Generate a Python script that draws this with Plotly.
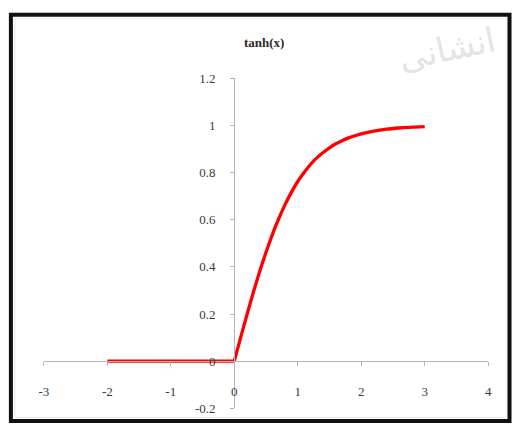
import plotly.graph_objects as go

# ---- data ----
x_vals = [-2.0, -1.5, -1.0, -0.5, 0.0,
          0.1, 0.2, 0.3, 0.4, 0.5, 0.6, 0.7, 0.8, 0.9, 1.0,
          1.1, 1.2, 1.3, 1.4, 1.5, 1.6, 1.7, 1.8, 1.9, 2.0,
          2.2, 2.4, 2.6, 2.8, 3.0]
y_vals = [0.0, 0.0, 0.0, 0.0, 0.0,
          0.100, 0.197, 0.291, 0.380, 0.462, 0.537, 0.604, 0.664, 0.716, 0.762,
          0.800, 0.834, 0.862, 0.885, 0.905, 0.922, 0.935, 0.947, 0.956, 0.964,
          0.976, 0.984, 0.989, 0.993, 0.995]
x_ticks = [-3, -2, -1, 0, 1, 2, 3, 4]
x_tick_labels = ["-3", "-2", "-1", "0", "1", "2", "3", "4"]
y_ticks = [1.2, 1.0, 0.8, 0.6, 0.4, 0.2, 0.0, -0.2]
y_tick_labels = ["1.2", "1", "0.8", "0.6", "0.4", "0.2", "0", "-0.2"]
title_text = "tanh(x)"
watermark_text = "انشانی"

W, H = 515, 431
font_family = "Liberation Serif, Times New Roman, serif"
axis_color = "#b5b5b5"
text_color = "#3a3a3a"

# split at the kink (x = 0): flat part straight, rising part smooth
k = x_vals.index(0.0)

fig = go.Figure()
fig.add_trace(go.Scatter(
    x=x_vals[:k + 1], y=y_vals[:k + 1], mode="lines",
    line=dict(color="#ff0000", width=3.3),
    hoverinfo="skip", showlegend=False,
))
fig.add_trace(go.Scatter(
    x=x_vals[k:], y=y_vals[k:], mode="lines",
    line=dict(color="#ff0000", width=3.3, shape="spline", smoothing=0.6),
    hoverinfo="skip", showlegend=False,
))

fig.update_layout(
    autosize=True,
    margin=dict(l=0, r=0, t=0, b=0),
    paper_bgcolor="white", plot_bgcolor="white",
    font=dict(family=font_family, size=13, color=text_color),
    showlegend=False,
    xaxis=dict(
        domain=[39.5 / W, 491.8 / W], range=[-3, 4],
        anchor="free", position=1 - 366.9 / H,
        showline=True, linecolor=axis_color, linewidth=1,
        showgrid=False, zeroline=False,
        tickmode="array", tickvals=x_ticks, ticktext=x_tick_labels,
        ticks="outside", ticklen=4, tickcolor=axis_color,
        ticklabelstandoff=14,
        tickfont=dict(family=font_family, size=13, color=text_color),
    ),
    yaxis=dict(
        domain=[1 - 415.8 / H, 1 - 73.8 / H], range=[-0.2, 1.2],
        anchor="free", position=233.3 / W,
        showline=True, linecolor=axis_color, linewidth=1,
        showgrid=False, zeroline=False,
        tickmode="array", tickvals=y_ticks, ticktext=y_tick_labels,
        ticks="outside", ticklen=4, tickcolor=axis_color,
        ticklabelstandoff=12,
        tickfont=dict(family=font_family, size=13, color=text_color),
    ),
    annotations=[
        dict(text="<b>" + title_text + "</b>", xref="paper", yref="paper",
             x=264 / W, y=1 - 37 / H, showarrow=False,
             xanchor="center", yanchor="middle",
             font=dict(family=font_family, size=13, color="#2a2a2a")),
        dict(text=watermark_text, xref="paper", yref="paper",
             x=505 / W, y=1 - 42 / H, showarrow=False,
             xanchor="right", yanchor="middle", textangle=-12,
             font=dict(family="Noto Sans, DejaVu Sans", size=34, color="#e4e4e4")),
    ],
    shapes=[
        dict(type="rect", xref="paper", yref="paper",
             x0=10 / W, x1=511 / W, y0=1 - 425 / H, y1=1 - 12 / H,
             line=dict(color="#e8e8e8", width=1), layer="below"),
        dict(type="rect", xref="paper", yref="paper",
             x0=6 / W, x1=513.5 / W, y0=1 - 429 / H, y1=1 - 8 / H,
             line=dict(color="#111111", width=4), layer="above"),
    ],
)

fig.write_html(
    "out.html",
    config={"displayModeBar": False, "staticPlot": True, "responsive": True},
    default_width="100vw",
    default_height="100vh",
    post_script=(
        "document.documentElement.style.margin='0';"
        "document.documentElement.style.overflow='hidden';"
        "document.body.style.margin='0';"
        "document.body.style.padding='0';"
        "document.body.style.overflow='hidden';"
        "Plotly.Plots.resize(document.getElementById('{plot_id}'));"
    ),
)
